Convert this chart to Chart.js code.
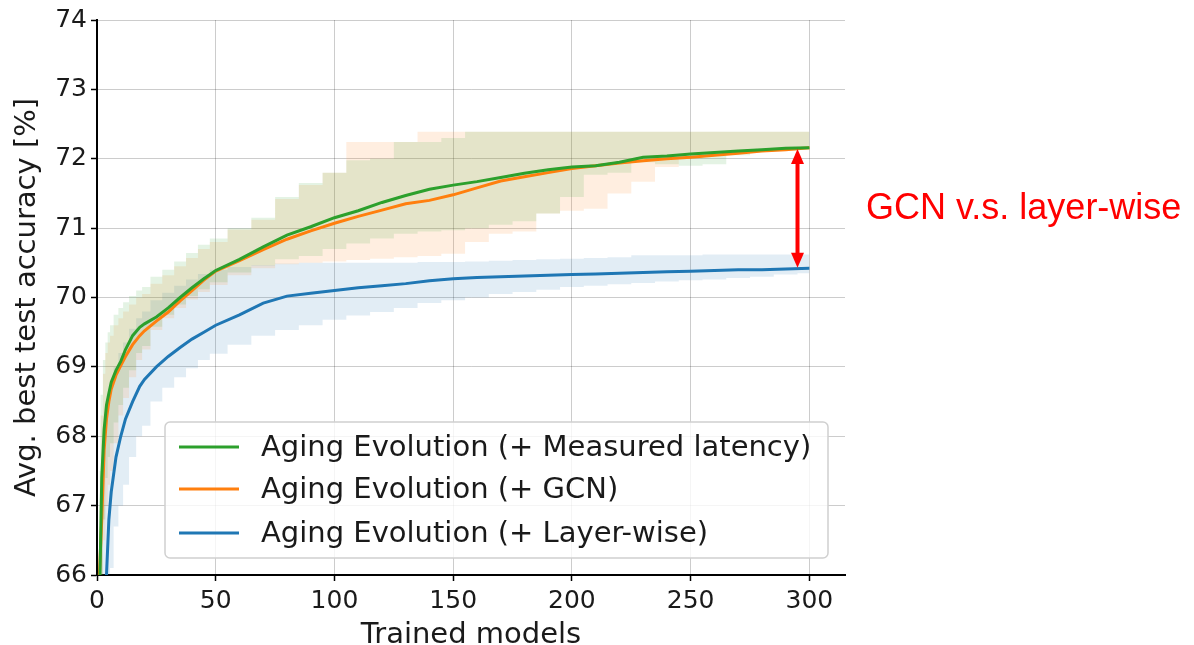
<!DOCTYPE html>
<html>
<head>
<meta charset="utf-8">
<script src="https://cdn.jsdelivr.net/npm/chart.js@4.4.1/dist/chart.umd.min.js"></script>
<style>
  html, body { margin: 0; padding: 0; background: #fff; }
  #wrap { width: 1194px; height: 645px; position: relative; }
</style>
</head>
<body>
<div id="wrap"><canvas id="chart"></canvas></div>
<script>
// Число обученных моделей (ось X)
const trainedModels = [1, 2, 3, 4, 5, 6, 8, 10, 12, 15, 18, 20, 25, 30, 35, 40, 45, 50,
    60, 70, 80, 90, 100, 110, 120, 130, 140, 150, 160, 170, 180, 190, 200,
    210, 220, 230, 240, 250, 260, 270, 280, 290, 300];

// Средняя точность
const measuredMean = [65.5, 67.4, 68.1, 68.45, 68.62, 68.78, 68.95, 69.08, 69.25, 69.45, 69.57, 69.62, 69.72, 69.85, 70.0, 70.14, 70.27, 70.39,
    70.55, 70.73, 70.9, 71.02, 71.15, 71.25, 71.37, 71.47, 71.56, 71.62, 71.67, 71.73, 71.79, 71.84, 71.88,
    71.9, 71.95, 72.02, 72.04, 72.07, 72.09, 72.11, 72.13, 72.15, 72.16];
const gcnMean = [66.0, 66.8, 67.8, 68.25, 68.5, 68.68, 68.88, 69.02, 69.15, 69.32, 69.45, 69.52, 69.66, 69.79, 69.95, 70.1, 70.25, 70.38,
    70.53, 70.69, 70.84, 70.96, 71.07, 71.17, 71.26, 71.35, 71.4, 71.48, 71.58, 71.68, 71.74, 71.8, 71.86,
    71.9, 71.94, 71.97, 72.0, 72.02, 72.05, 72.08, 72.11, 72.13, 72.16];
const layerMean = [62.0, 63.8, 65.0, 66.0, 66.8, 67.2, 67.7, 68.0, 68.25, 68.5, 68.72, 68.82, 69.0, 69.15, 69.28, 69.4, 69.5, 69.6,
    69.75, 69.92, 70.02, 70.06, 70.1, 70.14, 70.17, 70.2, 70.24, 70.27, 70.29, 70.3, 70.31, 70.32, 70.33,
    70.34, 70.35, 70.36, 70.37, 70.38, 70.39, 70.4, 70.4, 70.41, 70.42];

// Границы разброса
const measuredUpper = [67.5, 68.6, 69.1, 69.35, 69.5, 69.6, 69.75, 69.85, 69.93, 70.02, 70.1, 70.15, 70.3, 70.4, 70.52, 70.64, 70.76, 70.85,
    71.0, 71.15, 71.45, 71.65, 71.8, 71.98, 72.0, 72.24, 72.24, 72.3, 72.39, 72.39, 72.39, 72.39, 72.39,
    72.39, 72.39, 72.39, 72.39, 72.39, 72.39, 72.39, 72.39, 72.39, 72.39];
const measuredLower = [63.5, 65.8, 66.8, 67.4, 67.7, 67.9, 68.2, 68.45, 68.7, 68.95, 69.2, 69.3, 69.58, 69.75, 69.9, 70.02, 70.12, 70.22,
    70.36, 70.46, 70.55, 70.6, 70.7, 70.78, 70.85, 70.92, 70.95, 70.97, 71.0, 71.05, 71.1, 71.21, 71.45,
    71.77, 71.8, 71.95, 71.92, 71.9, 71.92, 72.05, 72.1, 72.12, 72.14];
const gcnUpper = [67.0, 68.3, 68.9, 69.2, 69.35, 69.45, 69.6, 69.7, 69.8, 69.9, 70.0, 70.05, 70.2, 70.32, 70.45, 70.57, 70.7, 70.8,
    70.98, 71.12, 71.42, 71.62, 71.8, 72.24, 72.24, 72.24, 72.39, 72.39, 72.39, 72.39, 72.39, 72.39, 72.39,
    72.39, 72.39, 72.39, 72.39, 72.39, 72.39, 72.39, 72.39, 72.39, 72.39];
const gcnLower = [64.0, 65.5, 66.5, 67.0, 67.3, 67.5, 67.9, 68.3, 68.55, 68.85, 69.1, 69.25, 69.53, 69.7, 69.85, 69.97, 70.08, 70.18,
    70.32, 70.42, 70.48, 70.5, 70.52, 70.54, 70.56, 70.58, 70.6, 70.63, 70.8, 70.92, 70.95, 71.21, 71.25,
    71.28, 71.5, 71.67, 71.88, 72.0, 72.05, 72.08, 72.1, 72.12, 72.14];
const layerUpper = [65.0, 66.8, 67.8, 68.3, 68.6, 68.8, 69.0, 69.2, 69.35, 69.55, 69.7, 69.8, 69.96, 70.07, 70.17, 70.26, 70.34, 70.4,
    70.44, 70.47, 70.49, 70.5, 70.5, 70.5, 70.5, 70.5, 70.51, 70.51, 70.52, 70.53, 70.54, 70.55, 70.56,
    70.57, 70.58, 70.61, 70.61, 70.61, 70.62, 70.62, 70.62, 70.62, 70.62];
const layerLower = [60.0, 62.0, 63.5, 64.8, 65.6, 66.1, 66.7, 67.0, 67.3, 67.7, 68.0, 68.15, 68.5, 68.7, 68.85, 68.98, 69.1, 69.19,
    69.32, 69.45, 69.53, 69.6, 69.68, 69.74, 69.79, 69.85, 69.92, 69.96, 70.0, 70.05, 70.08, 70.11, 70.15,
    70.17, 70.19, 70.21, 70.23, 70.25, 70.26, 70.28, 70.3, 70.33, 70.35];

const seriesLabels = [
    'Aging Evolution (+ Measured latency)',
    'Aging Evolution (+ GCN)',
    'Aging Evolution (+ Layer-wise)'
];
const seriesColors = ['#2ca02c', '#ff7f0e', '#1f77b4'];
const bandColors = ['rgba(44, 160, 44, 0.13)', 'rgba(255, 127, 14, 0.13)', 'rgba(31, 119, 180, 0.13)'];

// Стрелка-аннотация (в единицах данных)
const arrowX = 295;
const arrowTop = 72.14;
const arrowBottom = 70.43;
const annotationText = 'GCN v.s. layer-wise';

const FONT = "'DejaVu Sans', sans-serif";

function toPoints(ys) {
    return trainedModels.map((x, i) => ({ x: x, y: ys[i] }));
}

function meanDataset(i, ys) {
    return {
        label: seriesLabels[i],
        data: toPoints(ys),
        borderColor: seriesColors[i],
        borderWidth: 3,
        pointRadius: 0,
        fill: false,
        tension: 0
    };
}

function bandDatasets(i, upper, lower) {
    return [{
        label: 'band-up',
        data: toPoints(upper),
        borderWidth: 0,
        borderColor: 'rgba(0,0,0,0)',
        pointRadius: 0,
        stepped: 'middle',
        fill: false
    }, {
        label: 'band-low',
        data: toPoints(lower),
        borderWidth: 0,
        borderColor: 'rgba(0,0,0,0)',
        backgroundColor: bandColors[i],
        pointRadius: 0,
        stepped: 'middle',
        fill: '-1'
    }];
}

// Легенда, стрелка и подпись
const overlayPlugin = {
    id: 'overlay',
    afterDatasetsDraw(chart) {
        const ctx = chart.ctx;
        const xs = chart.scales.x;
        const ys = chart.scales.y;
        const x = xs.getPixelForValue(arrowX);
        const y1 = ys.getPixelForValue(arrowTop);
        const y2 = ys.getPixelForValue(arrowBottom);
        const headLen = 15, headW = 6.5;
        ctx.save();
        ctx.strokeStyle = '#ff0000';
        ctx.fillStyle = '#ff0000';
        ctx.lineWidth = 4;
        ctx.beginPath();
        ctx.moveTo(x, y1 + headLen - 2);
        ctx.lineTo(x, y2 - headLen + 2);
        ctx.stroke();
        ctx.beginPath();
        ctx.moveTo(x, y1);
        ctx.lineTo(x - headW, y1 + headLen);
        ctx.lineTo(x + headW, y1 + headLen);
        ctx.closePath();
        ctx.fill();
        ctx.beginPath();
        ctx.moveTo(x, y2);
        ctx.lineTo(x - headW, y2 - headLen);
        ctx.lineTo(x + headW, y2 - headLen);
        ctx.closePath();
        ctx.fill();
        ctx.restore();
    },
    afterDraw(chart) {
        const ctx = chart.ctx;
        const area = chart.chartArea;
        ctx.save();

        // Легенда внутри области графика
        const boxL = area.left + 68, boxR = area.left + 731;
        const boxB = area.bottom - 17, boxT = boxB - 136;
        ctx.beginPath();
        ctx.roundRect(boxL, boxT, boxR - boxL, boxB - boxT, 5);
        ctx.fillStyle = 'rgba(255,255,255,0.8)';
        ctx.fill();
        ctx.strokeStyle = '#d0d0d0';
        ctx.lineWidth = 1.5;
        ctx.stroke();

        ctx.font = '29px ' + FONT;
        ctx.textBaseline = 'middle';
        ctx.textAlign = 'left';
        const rows = [boxT + 25, boxT + 67, boxT + 111];
        seriesLabels.forEach((label, i) => {
            ctx.strokeStyle = seriesColors[i];
            ctx.lineWidth = 3;
            ctx.beginPath();
            ctx.moveTo(boxL + 14, rows[i]);
            ctx.lineTo(boxL + 74, rows[i]);
            ctx.stroke();
            ctx.fillStyle = '#1a1a1a';
            ctx.fillText(label, boxL + 96, rows[i] + 1);
        });

        // Красная подпись справа
        ctx.font = "36px 'Liberation Sans', Arial, sans-serif";
        ctx.fillStyle = '#ff0000';
        ctx.textBaseline = 'alphabetic';
        ctx.fillText(annotationText, area.right + 21, 219);
        ctx.restore();
    }
};

const datasets = [
    meanDataset(0, measuredMean),
    meanDataset(1, gcnMean),
    meanDataset(2, layerMean)
].concat(
    bandDatasets(0, measuredUpper, measuredLower),
    bandDatasets(1, gcnUpper, gcnLower),
    bandDatasets(2, layerUpper, layerLower)
);

new Chart(document.getElementById('chart'), {
    type: 'line',
    data: { datasets: datasets },
    plugins: [overlayPlugin],
    options: {
        responsive: true,
        maintainAspectRatio: false,
        animation: false,
        layout: { padding: { top: 20, right: 349, left: 0, bottom: 0 } },
        plugins: {
            legend: { display: false },
            tooltip: { enabled: false }
        },
        scales: {
            x: {
                type: 'linear',
                min: 0,
                max: 315,
                afterFit(scale) { scale.height = 70; },
                ticks: {
                    stepSize: 50,
                    includeBounds: false,
                    color: '#1a1a1a',
                    padding: 5,
                    font: { family: FONT, size: 25 }
                },
                grid: {
                    color: 'rgba(0,0,0,0.2)',
                    lineWidth: 1,
                    tickColor: '#000',
                    tickLength: 6,
                    tickWidth: 1.5
                },
                border: { color: '#000', width: 2 },
                title: {
                    display: true,
                    text: 'Trained models',
                    color: '#1a1a1a',
                    font: { family: FONT, size: 29, lineHeight: 1 },
                    padding: { top: 0, bottom: -5 }
                }
            },
            y: {
                min: 66,
                max: 74,
                afterFit(scale) { scale.width = 97; },
                ticks: {
                    stepSize: 1,
                    color: '#1a1a1a',
                    padding: 4,
                    font: { family: FONT, size: 25 }
                },
                grid: {
                    color: 'rgba(0,0,0,0.2)',
                    lineWidth: 1,
                    tickColor: '#000',
                    tickLength: 6,
                    tickWidth: 1.5
                },
                border: { color: '#000', width: 2 },
                title: {
                    display: true,
                    text: 'Avg. best test accuracy [%]',
                    color: '#1a1a1a',
                    font: { family: FONT, size: 29, lineHeight: 1 },
                    padding: { top: 13, bottom: 0 }
                }
            }
        }
    }
});
</script>
</body>
</html>
